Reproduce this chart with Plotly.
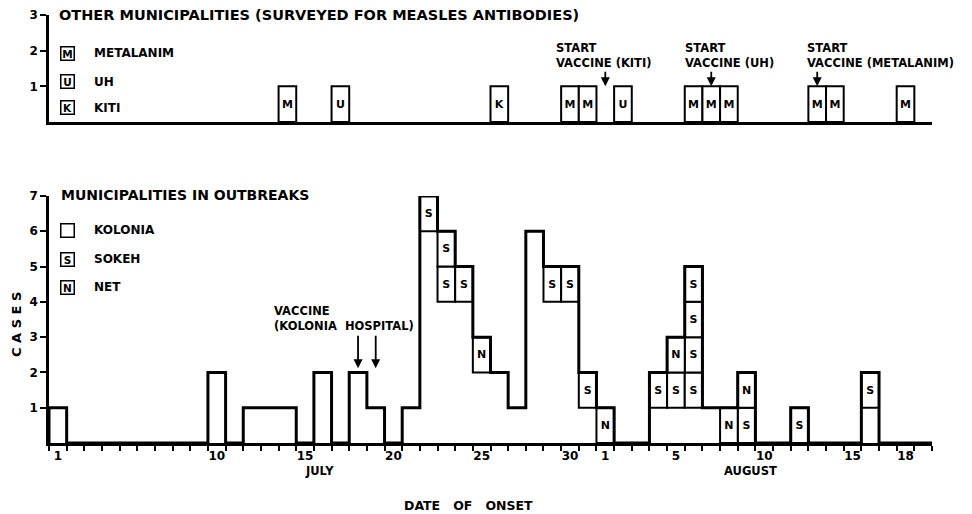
import plotly.graph_objects as go

W, H = 972, 514

# ---------------- data ----------------
# day index: 1 = July 1 ... 31 = July 31, 32 = Aug 1 ... 49 = Aug 18
kolonia_days = [1, 10, 12, 13, 14, 16, 18, 19, 21, 22, 23, 24, 25, 26, 27, 28, 29, 30, 31, 35, 36, 37, 38, 47]
kolonia_cases = [1, 2, 1, 1, 1, 2, 2, 1, 1, 6, 4, 4, 2, 2, 1, 6, 4, 4, 1, 1, 1, 1, 1, 1]
sokeh_days = [22, 23, 24, 29, 30, 31, 35, 36, 37, 40, 43, 47]
sokeh_cases = [1, 2, 1, 1, 1, 1, 1, 1, 4, 1, 1, 1]
net_days = [25, 32, 36, 39, 40]
net_cases = [1, 1, 1, 1, 1]

metalanim_days = [14, 30, 31, 37, 38, 39, 44, 45, 49]
uh_days = [17, 33]
kiti_days = [26]

vaccine_start_days = [32, 38, 44]
vaccine_start_labels = ["START<br>VACCINE (KITI)", "START<br>VACCINE (UH)", "START<br>VACCINE (METALANIM)"]
hospital_vaccine_days = [18, 19]

tick_days = [1, 10, 15, 20, 25, 30, 32, 36, 41, 46, 49]
tick_text = ["1", "10", "15", "20", "25", "30", "1", "5", "10", "15", "18"]
month_labels = ["JULY", "AUGUST"]
month_label_days = [15.8, 40.2]

N_DAYS = 50

# ---------------- geometry helpers ----------------
FONT = "DejaVu Sans"
OX, OY = 8, 8          # page offset of the plot div
X_LEFT_PX, X_RIGHT_PX = 49, 932
XR = [0.5, 50.5]


def px_x(px):
    return (px - OX) / W


def px_y(py):
    return 1 - (py - OY) / H


def tally(days, cases=None):
    c = {d: 0 for d in range(1, N_DAYS + 1)}
    for i, d in enumerate(days):
        c[d] += cases[i] if cases is not None else 1
    return c


K = tally(kolonia_days, kolonia_cases)
S = tally(sokeh_days, sokeh_cases)
NN = tally(net_days, net_cases)

fig = go.Figure()

box_line = dict(color="black", width=2)
txt_font = dict(family=FONT, size=11, color="black", weight="bold")


def add_boxes(xs, bases, letter, xa, ya):
    fig.add_trace(go.Bar(
        x=xs, y=[1] * len(xs), base=bases, width=1,
        marker=dict(color="white", line=box_line),
        text=[letter] * len(xs), textposition="inside", insidetextanchor="middle",
        textfont=txt_font, constraintext="none",
        xaxis=xa, yaxis=ya, showlegend=False, hoverinfo="skip"))


# lower panel boxes
sx, sb = [], []
for d in sorted(set(sokeh_days)):
    for i in range(S[d]):
        sx.append(d)
        sb.append(K[d] + i)
add_boxes(sx, sb, "S", "x2", "y2")

nx, nb = [], []
for d in sorted(set(net_days)):
    for i in range(NN[d]):
        nx.append(d)
        nb.append(K[d] + S[d] + i)
add_boxes(nx, nb, "N", "x2", "y2")

# outline of total histogram
ox, oy = [0.5], [0]
for d in range(1, N_DAYS + 1):
    ox.append(d - 0.5)
    oy.append(K[d] + S[d] + NN[d])
ox.append(N_DAYS + 0.5)
oy.append(0)
fig.add_trace(go.Scatter(x=ox, y=oy, mode="lines", line=dict(color="black", width=3, shape="hv"),
                         xaxis="x2", yaxis="y2", showlegend=False, hoverinfo="skip"))

# upper panel boxes
upper = tally([])
for days, letter in [(metalanim_days, "M"), (uh_days, "U"), (kiti_days, "K")]:
    bx, bb = [], []
    for d in days:
        bx.append(d)
        bb.append(upper[d])
        upper[d] += 1
    add_boxes(bx, bb, letter, "x", "y")

# ---------------- axes ----------------
xdom = [px_x(X_LEFT_PX), px_x(X_RIGHT_PX)]
axis_common = dict(showgrid=False, zeroline=False, showline=True, linecolor="black", linewidth=2.5,
                   automargin=False)
tickfont = dict(family=FONT, size=12, color="black", weight="bold")

fig.update_layout(
    width=W, height=H, margin=dict(l=0, r=0, t=0, b=0, autoexpand=False),
    paper_bgcolor="white", plot_bgcolor="white", barmode="overlay",
    xaxis=dict(domain=xdom, range=XR, anchor="y", showticklabels=False, ticks="", **axis_common),
    yaxis=dict(domain=[px_y(122), px_y(15)], range=[0, 3], anchor="x", tickvals=[1, 2, 3],
               ticks="outside", ticklen=6, tickwidth=2, tickcolor="black", tickfont=tickfont, **axis_common),
    xaxis2=dict(domain=xdom, range=XR, anchor="y2", tickvals=tick_days, ticktext=tick_text, ticks="",
                tickfont=tickfont,
                minor=dict(ticks="outside", tick0=0.5, dtick=1, ticklen=5, tickwidth=1.5, tickcolor="black"),
                **axis_common),
    yaxis2=dict(domain=[px_y(443), px_y(196)], range=[0, 7], anchor="x2", tickvals=list(range(1, 8)),
                ticks="outside", ticklen=6, tickwidth=2, tickcolor="black", tickfont=tickfont, **axis_common),
)

ann = []
title_font = dict(family=FONT, size=14.5, color="black", weight="bold")
small_font = dict(family=FONT, size=11.5, color="black", weight="bold")
leg_font = dict(family=FONT, size=12, color="black", weight="bold")

ann.append(dict(text="OTHER MUNICIPALITIES (SURVEYED FOR MEASLES ANTIBODIES)", xref="paper", yref="paper",
                x=px_x(57), y=px_y(15), xanchor="left", yanchor="middle", showarrow=False, font=title_font))
ann.append(dict(text="MUNICIPALITIES IN OUTBREAKS", xref="paper", yref="paper",
                x=px_x(59), y=px_y(195), xanchor="left", yanchor="middle", showarrow=False,
                font=dict(family=FONT, size=14, color="black", weight="bold")))

legend_upper = [("M", "METALANIM", 53), ("U", "UH", 82), ("K", "KITI", 108)]
legend_lower = [(" ", "KOLONIA", 230), ("S", "SOKEH", 259), ("N", "NET", 287)]
for letter, name, yy in legend_upper + legend_lower:
    ann.append(dict(text=letter, xref="paper", yref="paper", x=px_x(67), y=px_y(yy), xanchor="center",
                    yanchor="middle", showarrow=False, width=12, height=12, borderpad=0,
                    bordercolor="black", borderwidth=1.5, bgcolor="white",
                    font=dict(family=FONT, size=10.5, color="black", weight="bold")))
    ann.append(dict(text=name, xref="paper", yref="paper", x=px_x(92), y=px_y(yy), xanchor="left",
                    yanchor="middle", showarrow=False, font=leg_font))

# vaccine start annotations (upper)
label_shift = [2.9, 1.6, 0.7]
for d, lab, sh in zip(vaccine_start_days, vaccine_start_labels, label_shift):
    ann.append(dict(text=lab, xref="x", yref="paper", x=d - sh, y=px_y(55), xanchor="left", yanchor="middle",
                    align="left", showarrow=False, font=small_font))
    ann.append(dict(text="", xref="x", yref="y", x=d, y=1.0, ax=0, ay=-16, showarrow=True,
                    arrowhead=2, arrowsize=1, arrowwidth=1.8, arrowcolor="black", standoff=0))

# hospital vaccine (lower)
ann.append(dict(text="VACCINE<br>(KOLONIA  HOSPITAL)", xref="paper", yref="paper", x=px_x(272), y=px_y(318),
                xanchor="left", yanchor="middle", align="left", showarrow=False, font=small_font))
for d in hospital_vaccine_days:
    ann.append(dict(text="", xref="x2", yref="y2", x=d, y=2.12, ax=0, ay=-34, showarrow=True,
                    arrowhead=2, arrowsize=1, arrowwidth=1.8, arrowcolor="black", standoff=0))

ann.append(dict(text="C A S E S", xref="paper", yref="paper", x=px_x(16), y=px_y(325), textangle=-90,
                xanchor="center", yanchor="middle",
                showarrow=False, font=dict(family=FONT, size=13, color="black", weight="bold")))
for lab, d in zip(month_labels, month_label_days):
    ann.append(dict(text=lab, xref="x2", yref="paper", x=d, y=px_y(471), showarrow=False,
                    xanchor="center", yanchor="middle", font=small_font))
ann.append(dict(text="DATE   OF   ONSET", xref="paper", yref="paper", x=px_x(468), y=px_y(505), showarrow=False,
                xanchor="center", yanchor="middle",
                font=dict(family=FONT, size=12.5, color="black", weight="bold")))

fig.update_layout(annotations=ann)
fig.write_html("out.html")
